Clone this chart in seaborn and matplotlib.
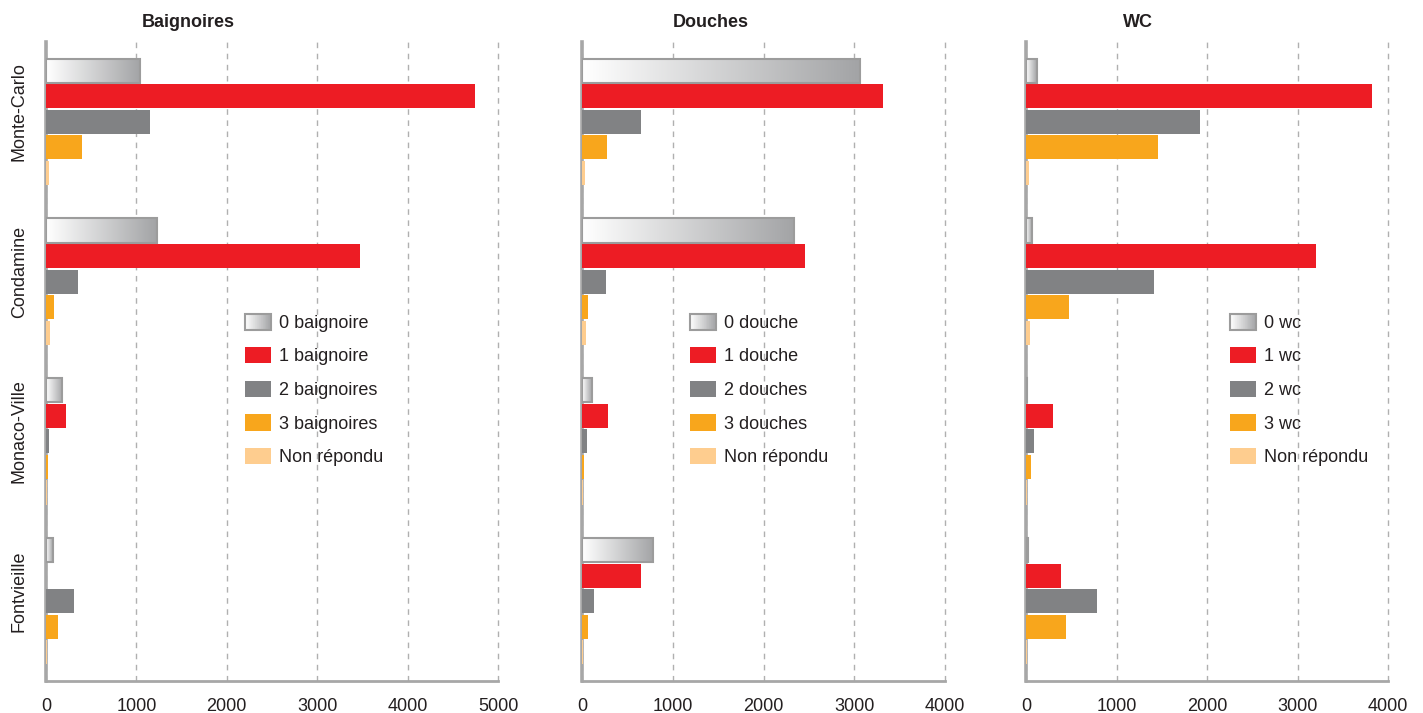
import numpy as np
import pandas as pd
import matplotlib
matplotlib.use('Agg')
import matplotlib.pyplot as plt
import seaborn as sns
from matplotlib.colors import LinearSegmentedColormap
from matplotlib.legend_handler import HandlerBase
from matplotlib.patches import Rectangle
from matplotlib.transforms import ScaledTranslation

# ── Data ─────────────────────────────────────────────────────────────────────

DISTRICTS = ['Monte-Carlo', 'Condamine', 'Monaco-Ville', 'Fontvieille']
LEVELS = ['0', '1', '2', '3', 'NR']

# values per district, in LEVELS order
BAIGNOIRES = [
    [1040, 4750, 1150, 400, 35],
    [1225, 3475, 355, 90, 45],
    [180, 220, 35, 20, 10],
    [75, 0, 310, 135, 8],
]
DOUCHES = [
    [3060, 3320, 650, 275, 33],
    [2340, 2460, 265, 65, 45],
    [110, 290, 55, 22, 12],
    [785, 650, 130, 66, 15],
]
WC = [
    [120, 3825, 1925, 1460, 33],
    [63, 3205, 1415, 475, 45],
    [12, 298, 88, 55, 11],
    [22, 385, 785, 440, 11],
]

LABELS_BAIGNOIRES = ['0 baignoire', '1 baignoire', '2 baignoires', '3 baignoires', 'Non répondu']
LABELS_DOUCHES = ['0 douche', '1 douche', '2 douches', '3 douches', 'Non répondu']
LABELS_WC = ['0 wc', '1 wc', '2 wc', '3 wc', 'Non répondu']

XTICKS_BAIGNOIRES = [0, 1000, 2000, 3000, 4000, 5000]
XTICKS_OTHER = [0, 1000, 2000, 3000, 4000]

# ── Style ────────────────────────────────────────────────────────────────────

PALETTE = {'0': '#d8d9da', '1': '#ed1c24', '2': '#818284', '3': '#f8a61c', 'NR': '#fecd8f'}
GRAD = LinearSegmentedColormap.from_list('grad', ['#ffffff', '#a3a4a6'])
EDGE = '#9c9c9c'
AXIS_GREY = '#a7a7a7'
TEXT = '#231f20'

sns.set_style('white')
plt.rcParams['font.family'] = ['Liberation Sans', 'DejaVu Sans']
plt.rcParams['font.size'] = 13
plt.rcParams['text.color'] = TEXT
plt.rcParams['xtick.color'] = TEXT
plt.rcParams['ytick.color'] = TEXT


class GradientHandler(HandlerBase):
    def create_artists(self, legend, orig_handle, xdescent, ydescent,
                       width, height, fontsize, trans):
        n = 40
        arts = []
        for i in range(n):
            arts.append(Rectangle((-xdescent + i * width / n, -ydescent), width / n * 1.1, height,
                                  facecolor=GRAD(i / (n - 1)), edgecolor='none', transform=trans))
        arts.append(Rectangle((-xdescent, -ydescent), width, height, facecolor='none',
                              edgecolor=EDGE, lw=1.5, transform=trans))
        return arts


def to_long(values):
    rows = []
    for d, vals in zip(DISTRICTS, values):
        for lev, v in zip(LEVELS, vals):
            rows.append({'district': d, 'level': lev, 'value': v})
    return pd.DataFrame(rows)


def draw_panel(ax, values, title, title_x, labels, xticks, legend_x, show_ylabels):
    df = to_long(values)
    sns.barplot(data=df, y='district', x='value', hue='level', order=DISTRICTS,
                hue_order=LEVELS, palette=PALETTE, orient='h', width=0.8, gap=0.06,
                saturation=1, linewidth=0, legend=False, ax=ax)

    # gradient fill for the "0" bars
    for patch in ax.containers[0]:
        x, y = patch.get_x(), patch.get_y()
        w, h = patch.get_width(), patch.get_height()
        if w <= 0:
            continue
        ax.imshow(np.linspace(0, 1, 100).reshape(1, -1), cmap=GRAD, aspect='auto',
                  extent=[x, x + w, y + h, y], zorder=patch.get_zorder(), interpolation='bilinear')
        patch.set_facecolor('none')
        patch.set_edgecolor(EDGE)
        patch.set_linewidth(1.5)
        patch.set_zorder(patch.get_zorder() + 0.1)

    ax.set_xlim(xticks[0], xticks[-1])
    ax.set_ylim(len(DISTRICTS) - 0.5, -0.5)
    ax.set_xticks(xticks)
    ax.set_xticklabels([str(t) for t in xticks])
    ax.set_xlabel('')
    ax.set_ylabel('')
    ax.tick_params(axis='both', length=0, labelsize=13)
    ax.tick_params(axis='x', pad=12)
    if show_ylabels:
        ax.set_yticks(range(len(DISTRICTS)))
        ax.set_yticklabels(DISTRICTS, rotation=90, va='center')
        ax.tick_params(axis='y', pad=13)
        shift = ScaledTranslation(0, 10 / 100, ax.figure.dpi_scale_trans)
        for lbl in ax.get_yticklabels():
            lbl.set_transform(lbl.get_transform() + shift)
    else:
        ax.set_yticklabels([])

    ax.set_axisbelow(True)
    ax.xaxis.grid(True, linestyle=(0, (4, 4)), color='#b0b0b0', linewidth=1)
    for line in ax.get_xgridlines():
        line.set_clip_on(False)
    ax.yaxis.grid(False)
    for side in ('top', 'right'):
        ax.spines[side].set_visible(False)
    ax.spines['left'].set_color(AXIS_GREY)
    ax.spines['left'].set_linewidth(2.6)
    ax.spines['left'].set_zorder(0.8)
    ax.spines['bottom'].set_color(AXIS_GREY)
    ax.spines['bottom'].set_linewidth(2.0)

    ax.text(title_x, 1.03, title, transform=ax.transAxes, ha='center', va='center',
            fontsize=13, fontweight='bold')

    grad_proxy = Rectangle((0, 0), 1, 1)
    handles = [grad_proxy] + [Rectangle((0, 0), 1, 1, facecolor=PALETTE[l], edgecolor='none')
                              for l in LEVELS[1:]]
    ax.legend(handles, labels, handler_map={grad_proxy: GradientHandler()},
              loc='upper left', bbox_to_anchor=(legend_x, 0.575), frameon=False,
              borderpad=0, borderaxespad=0, handlelength=1.45, handleheight=1.0,
              handletextpad=0.45, labelspacing=0.85, fontsize=13)


fig = plt.figure(figsize=(14.23, 7.13), dpi=100)
H = 713.0
W = 1423.0
bottom = 1 - 681 / H
height = (681 - 42) / H

ax1 = fig.add_axes([46 / W, bottom, (498 - 46) / W, height])
ax2 = fig.add_axes([582 / W, bottom, (945 - 582) / W, height])
ax3 = fig.add_axes([1026 / W, bottom, (1388 - 1026) / W, height])

draw_panel(ax1, BAIGNOIRES, 'Baignoires', 0.314, LABELS_BAIGNOIRES, XTICKS_BAIGNOIRES, 0.44, True)
draw_panel(ax2, DOUCHES, 'Douches', 0.355, LABELS_DOUCHES, XTICKS_OTHER, 0.297, False)
draw_panel(ax3, WC, 'WC', 0.309, LABELS_WC, XTICKS_OTHER, 0.564, False)

fig.savefig('out.png', dpi=100)
